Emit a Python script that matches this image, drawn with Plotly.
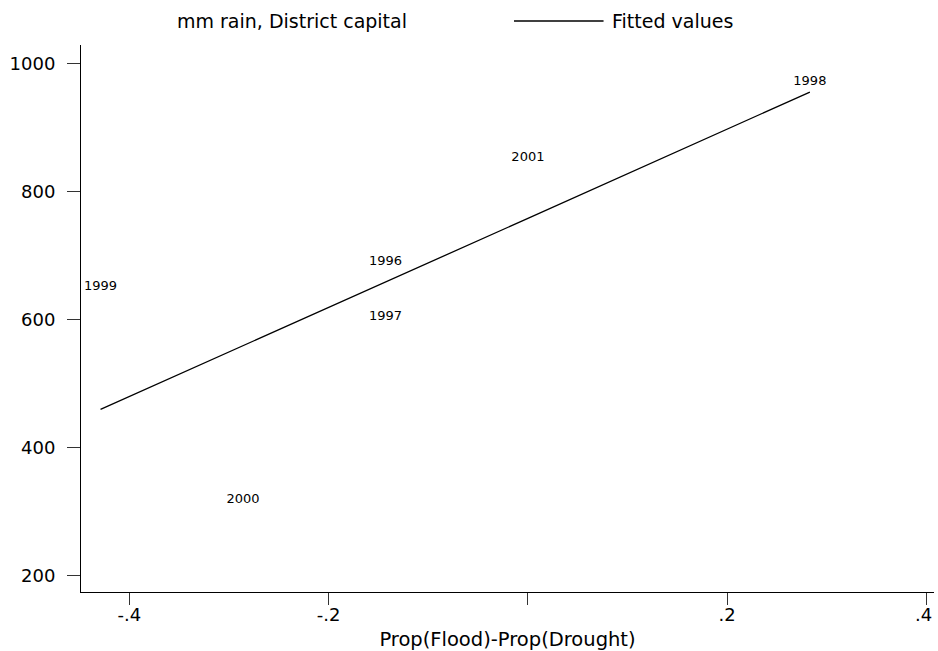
import numpy as np
import plotly.graph_objects as go

# ---- data ----
years = ["1996", "1997", "1998", "1999", "2000", "2001"]
prop_diff = [-0.143, -0.143, 0.283, -0.429, -0.286, 0.0]   # Prop(Flood)-Prop(Drought)
rain_mm = [691, 605, 971, 652, 319, 853]                    # mm rain, District capital
fitted = [659, 659, 955, 460, 559, 758]                     # Fitted values

x_tickvals = [-0.4, -0.2, 0.0, 0.2, 0.4]
x_ticktext = ["-.4", "-.2", "", ".2", ".4\u00a0"]
y_tickvals = [200, 400, 600, 800, 1000]
y_ticktext = ["200", "400", "600", "800", "1000"]

legend_labels = ["mm rain, District capital", "Fitted values"]
x_title = "Prop(Flood)-Prop(Drought)"

FONT = "DejaVu Sans"

order = np.argsort(np.array(prop_diff), kind="stable")
x_line = [prop_diff[i] for i in order]
y_line = [fitted[i] for i in order]

fig = go.Figure()
fig.add_trace(go.Scatter(
    x=prop_diff, y=rain_mm, mode="text", text=years,
    textposition="middle center",
    textfont=dict(family=FONT, size=13, color="black"),
    showlegend=False, hoverinfo="skip",
))
fig.add_trace(go.Scatter(
    x=x_line, y=y_line, mode="lines",
    line=dict(color="black", width=1.3),
    showlegend=False,
))

# plot area in page pixels: x 81..938, y 45..592
W, H = 938, 651
L, R, T, B = 81, 0, 45, 59
pw, ph = W - L - R, H - T - B

def px(xp):  # page pixel -> paper x
    return (xp - L) / pw

def py(yp):  # page pixel -> paper y
    return (H - B - yp) / ph

legend_y = py(21)
fig.add_annotation(x=px(293), y=legend_y, xref="paper", yref="paper",
                   text=legend_labels[0], showarrow=False,
                   xanchor="center", yanchor="middle",
                   font=dict(family=FONT, size=19, color="black"))
fig.add_shape(type="line", xref="paper", yref="paper",
              x0=px(516), x1=px(606), y0=legend_y, y1=legend_y,
              line=dict(color="black", width=1.3))
fig.add_annotation(x=px(612), y=legend_y, xref="paper", yref="paper",
                   text=legend_labels[1], showarrow=False,
                   xanchor="left", yanchor="middle",
                   font=dict(family=FONT, size=19, color="black"))

fig.update_layout(
    width=W, height=H,
    margin=dict(l=L, r=R, t=T, b=B, pad=0),
    plot_bgcolor="white", paper_bgcolor="white",
    font=dict(family=FONT, color="black"),
    showlegend=False,
    hovermode=False,
    xaxis=dict(
        range=[-0.4486, 0.4076], showgrid=False, zeroline=False,
        showline=True, linecolor="black", linewidth=1,
        ticks="outside", ticklen=12, tickcolor="#333", tickwidth=1,
        tickvals=x_tickvals, ticktext=x_ticktext,
        tickfont=dict(family=FONT, size=18, color="black"),
        ticklabelstandoff=-6, ticklabeloverflow="allow",
        title=dict(text="\u00a0\u00a0\u00a0" + x_title,
                   font=dict(family=FONT, size=19.5, color="black"),
                   standoff=8),
    ),
    yaxis=dict(
        range=[175, 1028.5], showgrid=False, zeroline=False,
        showline=True, linecolor="black", linewidth=1,
        ticks="outside", ticklen=13, tickcolor="#333", tickwidth=1,
        tickvals=y_tickvals, ticktext=y_ticktext,
        tickfont=dict(family=FONT, size=18, color="black"),
        ticklabelstandoff=8,
    ),
)

fig.write_html(
    "out.html",
    config={"displayModeBar": False},
    post_script="document.body.style.margin='0';"
                "document.body.style.overflow='hidden';"
                "document.documentElement.style.overflow='hidden';",
)
